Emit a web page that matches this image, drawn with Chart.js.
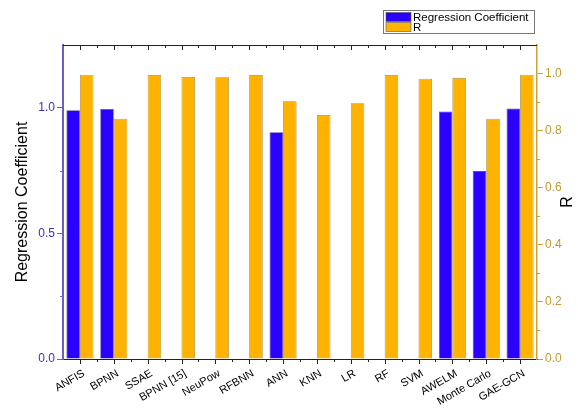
<!DOCTYPE html>
<html>
<head>
<meta charset="utf-8">
<script src="https://cdn.jsdelivr.net/npm/chart.js@4.4.1/dist/chart.umd.min.js"></script>
<style>
  html, body { margin: 0; padding: 0; background: #fff; }
  #wrap { width: 578px; height: 409px; }
</style>
</head>
<body>
<div id="wrap"><canvas id="c" width="578" height="409"></canvas></div>
<script>
// Models compared
const categories = ['ANFIS', 'BPNN', 'SSAE', 'BPNN [15]', 'NeuPow', 'RFBNN', 'ANN', 'KNN', 'LR', 'RF', 'SVM', 'AWELM', 'Monte Carlo', 'GAE-GCN'];
// Regression coefficient (left axis); null where not reported
const regressionCoef = [0.990, 0.995, null, null, null, null, 0.903, null, null, null, null, 0.985, 0.748, 0.997];
// Correlation R (right axis)
const rValues = [0.996, 0.842, 0.995, 0.988, 0.987, 0.995, 0.903, 0.855, 0.896, 0.995, 0.982, 0.985, 0.842, 0.996];
// Tick values
const leftTicks = [0, 0.5, 1.0];
const rightTicks = [0, 0.2, 0.4, 0.6, 0.8, 1.0];

const BLUE = '#2a00ff';
const ORANGE = '#ffb200';
const LEFT_AXIS = '#6a5fc8';
const LEFT_TEXT = '#3b2fb8';
const RIGHT_AXIS = '#c9a23c';
const RIGHT_TEXT = '#c49a2e';
const FONT = '"Liberation Sans", Arial, sans-serif';

// Minor ticks, top frame line, right-axis title and boxed legend
const decorations = {
  id: 'decorations',
  afterDraw(chart) {
    const ctx = chart.ctx;
    const a = chart.chartArea;
    const x = chart.scales.x;
    const yL = chart.scales.yL;
    const yR = chart.scales.yR;
    ctx.save();
    ctx.lineWidth = 1;

    // top frame line
    ctx.strokeStyle = '#222';
    ctx.beginPath();
    ctx.moveTo(a.left, a.top + 0.5);
    ctx.lineTo(a.right, a.top + 0.5);
    ctx.stroke();

    // category ticks: major at centres, minor at boundaries (bottom outward, top inward)
    const n = categories.length;
    ctx.beginPath();
    for (let i = 0; i < n; i++) {
      const cx = Math.round(x.getPixelForValue(i)) + 0.5;
      ctx.moveTo(cx, a.bottom); ctx.lineTo(cx, a.bottom + 5);
      ctx.moveTo(cx, a.top); ctx.lineTo(cx, a.top + 5);
    }
    for (let i = 0; i < n - 1; i++) {
      const bx = Math.round((x.getPixelForValue(i) + x.getPixelForValue(i + 1)) / 2) + 0.5;
      ctx.moveTo(bx, a.bottom); ctx.lineTo(bx, a.bottom + 3);
      ctx.moveTo(bx, a.top); ctx.lineTo(bx, a.top + 3);
    }
    ctx.stroke();

    // minor ticks on left axis
    ctx.strokeStyle = LEFT_AXIS;
    ctx.beginPath();
    [0.25, 0.75].forEach(v => {
      const py = Math.round(yL.getPixelForValue(v)) + 0.5;
      ctx.moveTo(a.left, py); ctx.lineTo(a.left - 3, py);
    });
    ctx.stroke();

    // minor ticks on right axis
    ctx.strokeStyle = RIGHT_AXIS;
    ctx.beginPath();
    [0.1, 0.3, 0.5, 0.7, 0.9].forEach(v => {
      const py = Math.round(yR.getPixelForValue(v)) + 0.5;
      ctx.moveTo(a.right, py); ctx.lineTo(a.right + 3, py);
    });
    ctx.stroke();

    // right axis title
    ctx.fillStyle = '#000';
    ctx.font = '16px ' + FONT;
    ctx.textAlign = 'center';
    ctx.textBaseline = 'middle';
    ctx.translate(568, (a.top + a.bottom) / 2);
    ctx.rotate(-Math.PI / 2);
    ctx.fillText('R', 0, 0);
    ctx.setTransform(1, 0, 0, 1, 0, 0);

    // legend box
    const lx = 383.5, ly = 10.5, lw = 151, lh = 23;
    ctx.fillStyle = '#fff';
    ctx.fillRect(lx, ly, lw, lh);
    ctx.strokeStyle = '#777';
    ctx.lineWidth = 1;
    ctx.strokeRect(lx, ly, lw, lh);
    const items = chart.data.datasets;
    ctx.font = '11.5px ' + FONT;
    ctx.textAlign = 'left';
    items.forEach((ds, i) => {
      const sy = 12.5 + i * 10;
      ctx.fillStyle = ds.backgroundColor;
      ctx.fillRect(386, sy, 25, 9);
      ctx.strokeStyle = '#555';
      ctx.lineWidth = 0.6;
      ctx.strokeRect(386, sy, 25, 9);
      ctx.fillStyle = '#000';
      ctx.fillText(ds.label, 413, sy + 5);
    });
    ctx.restore();
  }
};

new Chart(document.getElementById('c'), {
  type: 'bar',
  data: {
    labels: categories,
    datasets: [
      {
        label: 'Regression Coefficient',
        data: regressionCoef,
        yAxisID: 'yL',
        backgroundColor: BLUE,
        borderColor: '#5a4aa8',
        borderWidth: 0.8,
        categoryPercentage: 0.8,
        barPercentage: 1.0
      },
      {
        label: 'R',
        data: rValues,
        yAxisID: 'yR',
        backgroundColor: ORANGE,
        borderColor: '#a8893e',
        borderWidth: 0.8,
        categoryPercentage: 0.8,
        barPercentage: 1.0
      }
    ]
  },
  options: {
    responsive: false,
    animation: false,
    layout: { padding: { top: 45, left: 0, right: 0, bottom: 0 } },
    plugins: { legend: { display: false }, tooltip: { enabled: false } },
    scales: {
      x: {
        grid: { display: false },
        border: { display: true, color: '#222', width: 1 },
        ticks: {
          color: '#000',
          font: { family: FONT, size: 11 },
          minRotation: 30,
          maxRotation: 30,
          autoSkip: false,
          padding: 0,
          labelOffset: 4
        },
        afterFit(s) { s.height = 50; }
      },
      yL: {
        position: 'left',
        min: 0,
        max: 1.25,
        afterBuildTicks(s) { s.ticks = leftTicks.map(v => ({ value: v })); },
        grid: { display: true, drawOnChartArea: false, drawTicks: true, tickLength: 6, color: LEFT_AXIS },
        border: { display: true, color: LEFT_AXIS, width: 2 },
        ticks: {
          color: LEFT_TEXT,
          font: { family: FONT, size: 12 },
          padding: 2,
          callback: v => Number(v).toFixed(1)
        },
        title: {
          display: true,
          text: 'Regression Coefficient',
          color: '#000',
          font: { family: FONT, size: 16 },
          padding: { top: 13, bottom: 0 }
        },
        afterFit(s) { s.width = 63; }
      },
      yR: {
        position: 'right',
        min: 0,
        max: 1.1,
        afterBuildTicks(s) { s.ticks = rightTicks.map(v => ({ value: v })); },
        grid: { display: true, drawOnChartArea: false, drawTicks: true, tickLength: 6, color: RIGHT_AXIS },
        border: { display: true, color: RIGHT_AXIS, width: 1.5 },
        ticks: {
          color: RIGHT_TEXT,
          font: { family: FONT, size: 12 },
          padding: 2,
          callback: v => Number(v).toFixed(1)
        },
        afterFit(s) { s.width = 41; }
      }
    }
  },
  plugins: [decorations]
});
</script>
</body>
</html>
